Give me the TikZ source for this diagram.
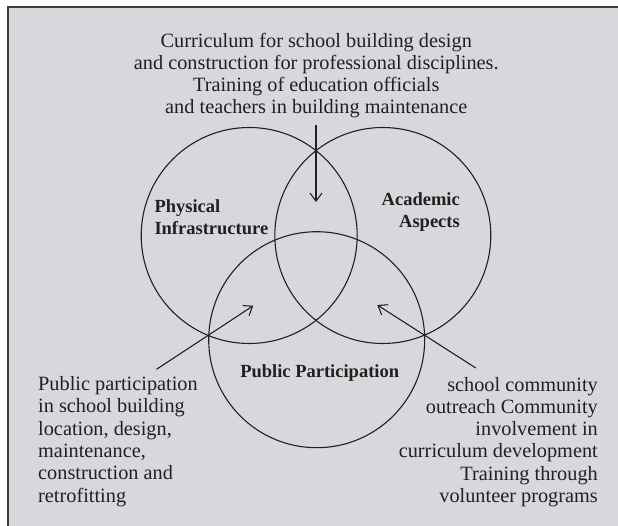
\documentclass[tikz,border=0pt]{standalone}
\usepackage{fontspec}
\setmainfont{Liberation Serif}
\usetikzlibrary{arrows.meta}
\definecolor{panelgray}{RGB}{215,216,220}
\definecolor{framegray}{RGB}{60,60,62}
\definecolor{inkdark}{RGB}{35,31,32}

\begin{document}
\begin{tikzpicture}[x=1pt,y=-1pt,
	ring/.style={circle,draw=inkdark,line width=1.1pt,minimum size=216pt,inner sep=0pt},
	note/.style={font=\fontsize{20.3}{22.3}\selectfont,text=inkdark,inner sep=0pt},
	tag/.style={font=\fontsize{18.5}{22}\selectfont\bfseries,text=inkdark,inner sep=0pt},
	pointer/.style={-{Straight Barb[length=8pt,width=12pt]},draw=inkdark,line width=1.1pt}]
	\useasboundingbox (0,0) rectangle (618,526);
	\clip (0,0) rectangle (618,526);
	\filldraw[fill=panelgray,draw=framegray,line width=1.8pt] (8,7) rectangle (640,550);
	% the three circles
	\node[ring] (phys) at (249.2,235.5) {};
	\node[ring] (acad) at (382.8,235.5) {};
	\node[ring] (pub)  at (316.7,339.7) {};
	% circle names (base = last line)
	\node[tag,anchor=base west,align=left]  (physlabel) at (154.3,234.3) {Physical\\Infrastructure};
	\node[tag,anchor=base east,align=right] (acadlabel) at (460,227.5) {Academic\\Aspects};
	\node[tag,anchor=base] (publabel) at (319.7,377.3) {Public Participation};
	%%%%%
	\node[note,anchor=base,align=center] (topnote) at (316.3,114)
		{Curriculum for school building design\\and construction for professional disciplines.\\Training of education officials\\and teachers in building maintenance};
	\node[note,anchor=base west,align=left] (leftnote) at (38,502)
		{Public participation\\in school building\\location, design,\\maintenance,\\construction and\\retrofitting};
	\node[note,anchor=base east,align=right] (rightnote) at (598,502.5)
		{school community\\outreach Community\\involvement in\\curriculum development\\Training through\\volunteer programs};
	% arrows into the overlaps
	\coordinate (topfoot)   at (316,125);
	\coordinate (toptip)    at (316,202);
	\coordinate (leftfoot)  at (156.5,369.3);
	\coordinate (lefttip)   at (253.3,305.7);
	\coordinate (rightfoot) at (475.8,368);
	\coordinate (righttip)  at (377.3,305);
	\draw[pointer] (topfoot) -- (toptip);
	\draw[pointer] (leftfoot) -- (lefttip);
	\draw[pointer] (rightfoot) -- (righttip);
\end{tikzpicture}
\end{document}
